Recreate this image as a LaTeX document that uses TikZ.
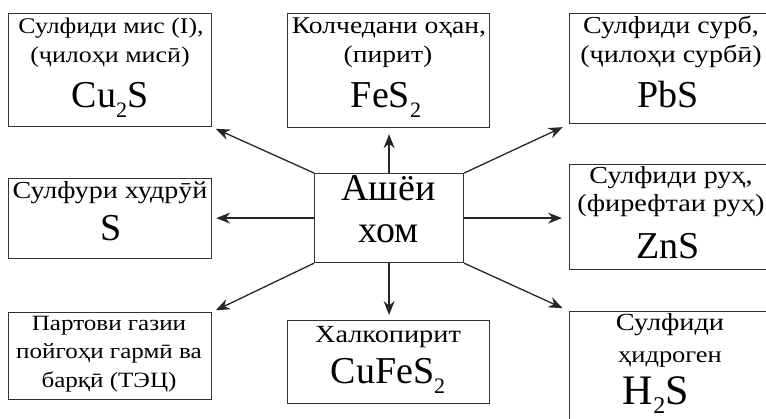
\documentclass[tikz,border=0pt]{standalone}
\usepackage{fontspec}
\setmainfont{Liberation Serif}[FakeStretch=1.15]
\newfontfamily\plainfont{Liberation Serif}
\usetikzlibrary{arrows.meta}
\newcommand{\sbs}[1]{\raisebox{-0.28em}{\fontsize{22}{22}\selectfont #1}}
\newcommand{\fsz}[1]{\fontsize{#1}{#1}\selectfont}
\tikzset{
  box/.style={draw=black!80, line width=1.2pt, inner sep=0pt, anchor=north west},
  txt/.style={inner sep=0pt, anchor=base, font=\fsz{23.8}},
  fml/.style={inner sep=0pt, anchor=base, font=\plainfont\fsz{38}},
  arr/.style={-{Stealth[length=14pt,width=11pt]}, line width=1.3pt, draw=black!85},
}
\begin{document}
\begin{tikzpicture}[x=1pt,y=-1pt]
\clip (0,0) rectangle (766,418);
% boxes
\node[box, minimum width=203pt, minimum height=113pt] (b1) at (8,13) {};
\node[box, minimum width=202pt, minimum height=114pt] (b2) at (287,13) {};
\node[box, minimum width=204pt, minimum height=110pt] (b3) at (569,13) {};
\node[box, minimum width=203pt, minimum height=80pt] (b4) at (8,178) {};
\node[box, minimum width=149pt, minimum height=89pt] (c) at (314,173) {};
\node[box, minimum width=204pt, minimum height=105pt] (b6) at (569,164) {};
\node[box, minimum width=203pt, minimum height=87pt] (b7) at (8,312) {};
\node[box, minimum width=202pt, minimum height=83pt] (b8) at (287,320) {};
\node[box, minimum width=204pt, minimum height=115pt] (b9) at (569,311) {};
% texts
\node[txt, font=\fsz{22.4}] (t1a) at (111,33) {Сулфиди мис (I),};
\node[txt, font=\fsz{22.6}] (t1b) at (110,62) {(ҷилоҳи мисӣ)};
\node[fml] (t1c) at (110,107) {Cu\sbs{2}S};
\node[txt, font=\fsz{24}] (t2a) at (389,33) {Колчедани оҳан,};
\node[txt, font=\fsz{24}] (t2b) at (388,62) {(пирит)};
\node[fml] (t2c) at (386,107) {FeS\sbs{2}};
\node[txt, font=\fsz{24.4}] (t3a) at (671,33) {Сулфиди сурб,};
\node[txt, font=\fsz{24.4}] (t3b) at (671,62) {(ҷилоҳи сурбӣ)};
\node[fml] (t3c) at (668,107) {PbS};
\node[txt, font=\fsz{24.4}] (t4a) at (110,198) {Сулфури худрӯй};
\node[fml] (t4b) at (111,240) {S};
\node[fml] (tca) at (388.5,200) {Ашёи};
\node[fml] (tcb) at (388.5,242) {хом};
\node[txt, font=\fsz{24.4}] (t6a) at (671,183) {Сулфиди руҳ,};
\node[txt, font=\fsz{24.6}] (t6b) at (671,211) {(фирефтаи руҳ)};
\node[fml] (t6c) at (668,258) {ZnS};
\node[txt, font=\fsz{21.8}] (t7a) at (109,330) {Партови газии};
\node[txt, font=\fsz{21.8}] (t7b) at (109,358) {пойгоҳи гармӣ ва};
\node[txt, font=\fsz{21.8}] (t7c) at (109,387) {барқӣ (ТЭЦ)};
\node[txt, font=\fsz{24.6}] (t8a) at (388,342) {Халкопирит};
\node[fml] (t8b) at (388,383) {CuFeS\sbs{2}};
\node[txt, font=\fsz{24.6}] (t9a) at (670,330) {Сулфиди};
\node[txt, font=\fsz{23}] (t9b) at (670,362) {ҳидроген};
\node[fml, font=\plainfont\fsz{42}] (t9c) at (656,404) {H\kern0.5pt\raisebox{-0.22em}{\fsz{24}2}\kern0.5pt S};
% arrows
\draw[arr, shorten >=4pt] (c.north west) -- (b1.south east);
\draw[arr, shorten >=6pt] (c.north) -- (c.north |- b2.south);
\draw[arr, shorten >=7pt] (c.north east) -- (b3.south west);
\draw[arr, shorten >=4pt] (c.west) -- (c.west -| b4.east);
\draw[arr, shorten >=7pt] (c.east) -- (c.east -| b6.west);
\draw[arr, shorten >=4pt] (c.south west) -- (b7.north east);
\draw[arr, shorten >=5pt] (c.south) -- (c.south |- b8.north);
\draw[arr, shorten >=7pt] (c.south east) -- (b9.north west);
\end{tikzpicture}
\end{document}
